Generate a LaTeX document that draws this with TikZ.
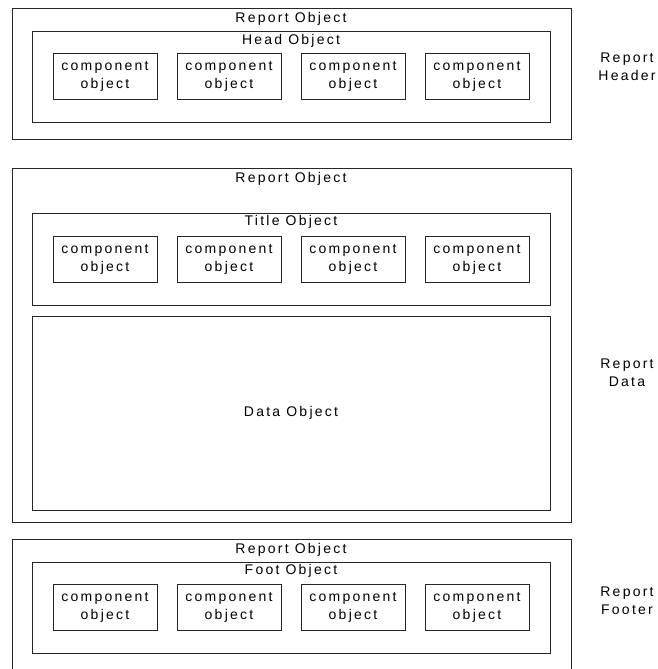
\documentclass[tikz,border=0pt]{standalone}
\usepackage{fontspec}
\newfontfamily\diafont[LetterSpace=16]{Liberation Sans}
\begin{document}
\begin{tikzpicture}
[x=1pt, y=-1pt,
 nodes={font=\diafont\fontsize{14}{18}\selectfont, align=center, inner sep=0pt},
 frame/.style={draw=black!85, line width=.8pt},
 comp/.style={draw=black!85, line width=.8pt, minimum width=104pt, minimum height=46pt}]
\clip (0,0) rectangle (657,669);
\useasboundingbox (0,0) rectangle (657,669);

\node (ReportA) at (291.5,73.5) [frame, minimum width=559pt, minimum height=131pt] {};
\node (HeadBox) at (291,76.5) [frame, minimum width=518pt, minimum height=91pt] {};
\node (ReportAText) at (291,19) {Report Object};
\node (HeadText) at (291,41) {Head Object};
\node (HeadC1) at (105,76) [comp] {component\\object};
\node (HeadC2) at (229,76) [comp] {component\\object};
\node (HeadC3) at (353,76) [comp] {component\\object};
\node (HeadC4) at (477,76) [comp] {component\\object};
\node (Header) at (627,66.5) {Report\\Header};

\node (ReportB) at (291.5,345) [frame, minimum width=559pt, minimum height=354pt] {};
\node (TitleBox) at (291,259) [frame, minimum width=518pt, minimum height=92pt] {};
\node (DataBox) at (291,413) [frame, minimum width=518pt, minimum height=194pt] {};
\node (ReportBText) at (291,179) {Report Object};
\node (TitleText) at (291,222) {Title Object};
\node (TitleC1) at (105,259) [comp] {component\\object};
\node (TitleC2) at (229,259) [comp] {component\\object};
\node (TitleC3) at (353,259) [comp] {component\\object};
\node (TitleC4) at (477,259) [comp] {component\\object};
\node (DataText) at (291,413) {Data Object};
\node (Data) at (627,373) {Report\\Data};

\node (ReportC) at (291.5,611) [frame, minimum width=559pt, minimum height=144pt] {};
\node (FootBox) at (291,607.5) [frame, minimum width=518pt, minimum height=91pt] {};
\node (ReportCText) at (291,550) {Report Object};
\node (FootText) at (291,571) {Foot Object};
\node (FootC1) at (105,607.5) [comp] {component\\object};
\node (FootC2) at (229,607.5) [comp] {component\\object};
\node (FootC3) at (353,607.5) [comp] {component\\object};
\node (FootC4) at (477,607.5) [comp] {component\\object};
\node (Footer) at (627,601) {Report\\Footer};
\end{tikzpicture}
\end{document}
